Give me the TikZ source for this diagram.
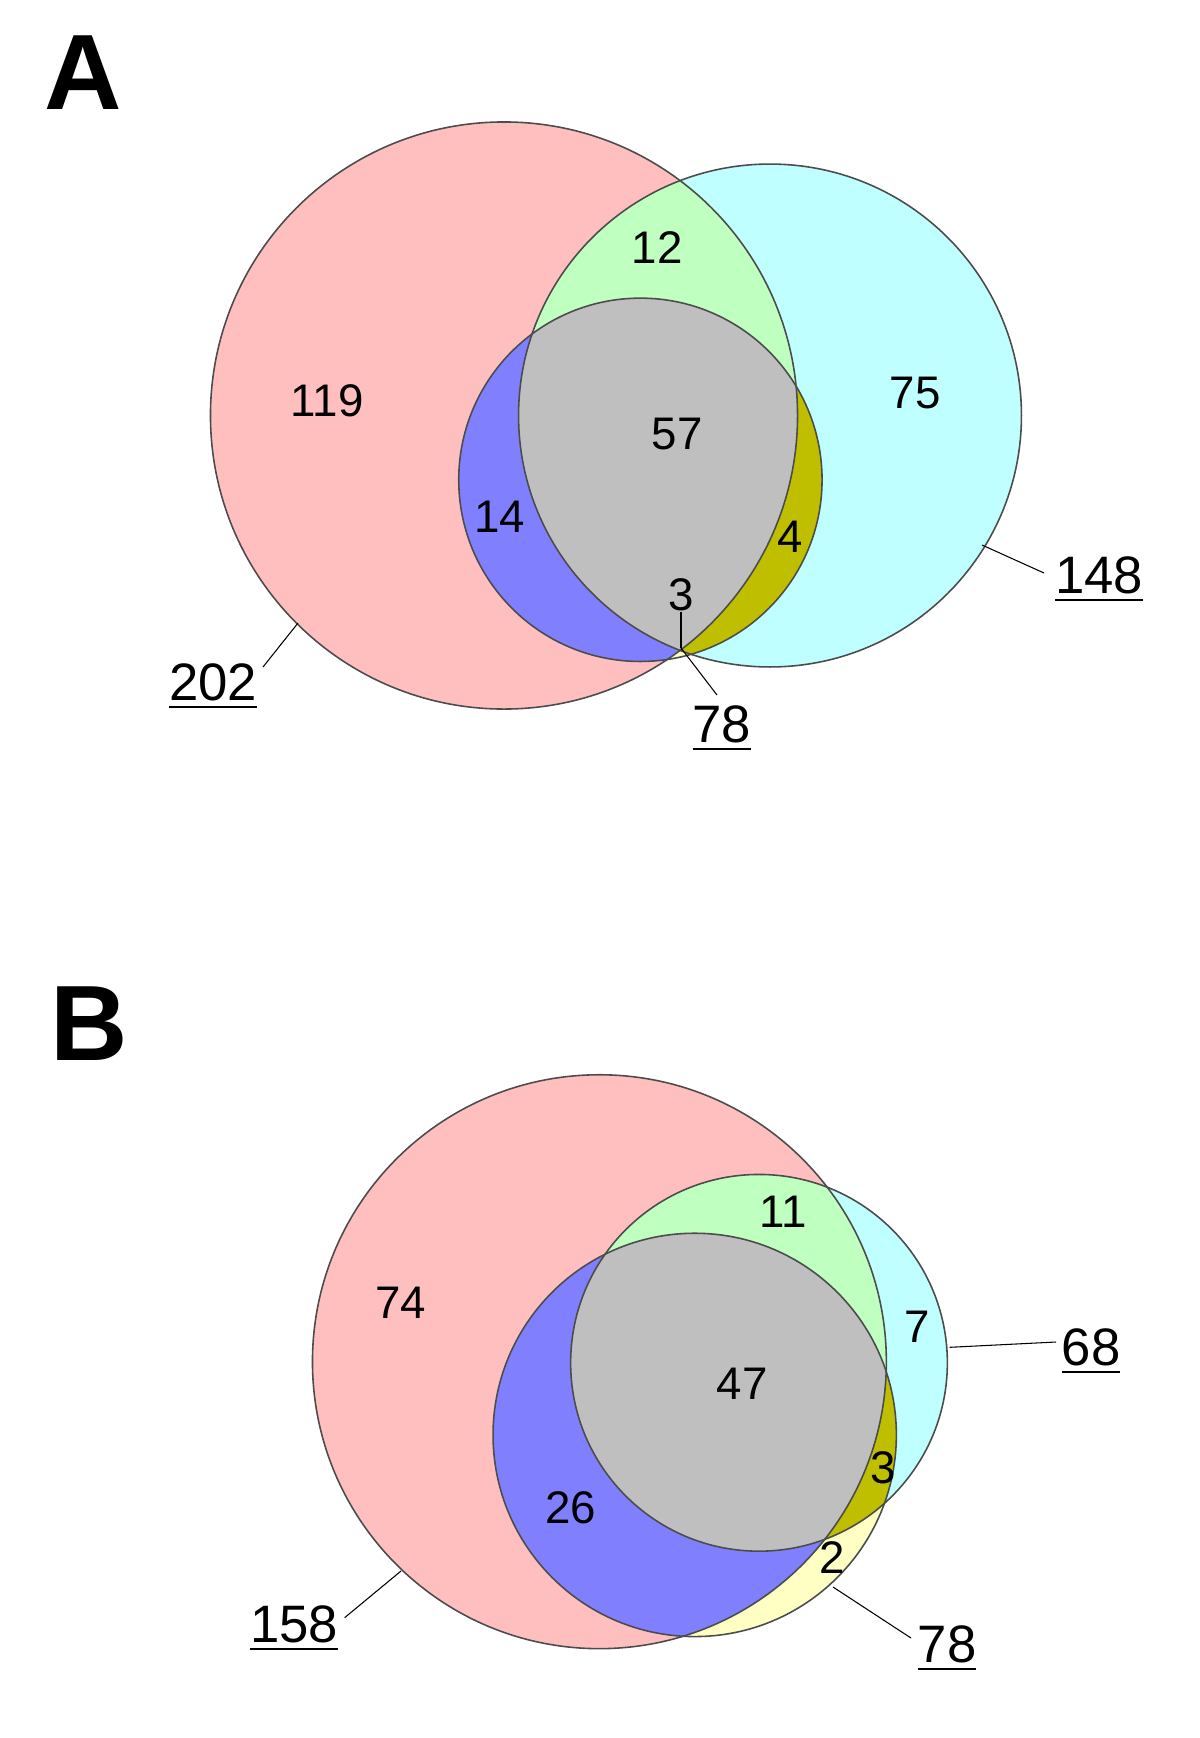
\documentclass[tikz,border=0pt]{standalone}
\usepackage{fontspec}
\setmainfont{Liberation Sans}
\usepackage{xcolor}

\definecolor{onlyA}{HTML}{FFBFBF}
\definecolor{onlyB}{HTML}{BFFFFF}
\definecolor{onlyC}{HTML}{FFFFC4}
\definecolor{partAB}{HTML}{BFFFBF}
\definecolor{partAC}{HTML}{8080FF}
\definecolor{partBC}{HTML}{BFBF00}
\definecolor{partABC}{HTML}{BFBFBF}

% underlined total, baseline kept
\newcommand\totline[1]{\vtop{\hbox{#1}\kern3pt\hrule height 1.3pt}}

% three sets: centre and radius of A, B, C
\newcommand\vennfill[6]{%
  \fill[onlyA] (#1) circle (#2);
  \fill[onlyB] (#3) circle (#4);
  \fill[onlyC] (#5) circle (#6);
  \begin{scope}
    \clip (#3) circle (#4);
    \fill[partBC] (#5) circle (#6);
  \end{scope}
  \begin{scope}
    \clip (#1) circle (#2);
    \fill[partAB] (#3) circle (#4);
    \fill[partAC] (#5) circle (#6);
    \clip (#3) circle (#4);
    \fill[partABC] (#5) circle (#6);
  \end{scope}
  \draw[ring] (#1) circle (#2);
  \draw[ring] (#3) circle (#4);
  \draw[ring] (#5) circle (#6);
}

\begin{document}
\begin{tikzpicture}[x=0.02cm, y=-0.02cm,
    ring/.style={draw=black!70, line width=0.9pt},
    num/.style={font=\fontsize{26}{30}\selectfont, inner sep=0pt},
    total/.style={font=\fontsize{30}{34}\selectfont, inner sep=0pt, anchor=base},
    panel/.style={font=\fontsize{61}{70}\selectfont\bfseries, inner sep=0pt},
    lead/.style={draw=black, line width=0.6pt}]
  \useasboundingbox (0,0) rectangle (1200,1738);

  % panel A
  \node[panel] (pA) at (83.5,72.5) {A};
  \coordinate (a1) at (504,415.5);
  \coordinate (b1) at (770,415.5);
  \coordinate (c1) at (640.4,479.8);
  \vennfill{a1}{5.872cm}{b1}{5.03cm}{c1}{3.634cm}

  \node[num] (n119) at (327,401) {119};
  \node[num] (n12) at (657,248) {12};
  \node[num] (n75) at (915,393) {75};
  \node[num] (n57) at (677,434) {57};
  \node[num] (n14) at (500,517) {14};
  \node[num] (n4) at (790,537) {4};
  \node[num] (n3a) at (681,595) {3};

  \node[total] (tA1) at (213,700) {\totline{202}};
  \node[total] (tB1) at (1099,593) {\totline{148}};
  \node[total] (tC1) at (722,742) {\totline{78}};
  \coordinate (meet1) at (681,648);
  \coordinate (endA1) at (298,623);
  \coordinate (endB1) at (982,545);
  \draw[lead] (n3a.south) -- (meet1);
  \draw[lead] (meet1) -- (717,695);
  \draw[lead] (263,667) -- (endA1);
  \draw[lead] (1044,573) -- (endB1);

  % panel B
  \node[panel] (pB) at (89,1023.5) {B};
  \coordinate (a2) at (599.4,1361.7);
  \coordinate (b2) at (759,1362.8);
  \coordinate (c2) at (694.7,1434.9);
  \vennfill{a2}{5.74cm}{b2}{3.768cm}{c2}{4.034cm}

  \node[num] (n74) at (401,1303) {74};
  \node[num] (n11) at (783,1212) {11};
  \node[num] (n7) at (917,1327) {7};
  \node[num] (n47) at (742,1384) {47};
  \node[num] (n26) at (571,1508) {26};
  \node[num] (n3b) at (883,1468) {3};
  \node[num] (n2) at (832,1558) {2};

  \node[total] (tA2) at (294,1642) {\totline{158}};
  \node[total] (tB2) at (1091,1365) {\totline{68}};
  \node[total] (tC2) at (947,1662) {\totline{78}};
  \coordinate (endA2) at (401,1571);
  \coordinate (endB2) at (949.6,1347.3);
  \coordinate (endC2) at (833,1587);
  \draw[lead] (344.6,1617.7) -- (endA2);
  \draw[lead] (endB2) -- (1056,1342);
  \draw[lead] (endC2) -- (911,1638);
\end{tikzpicture}
\end{document}
